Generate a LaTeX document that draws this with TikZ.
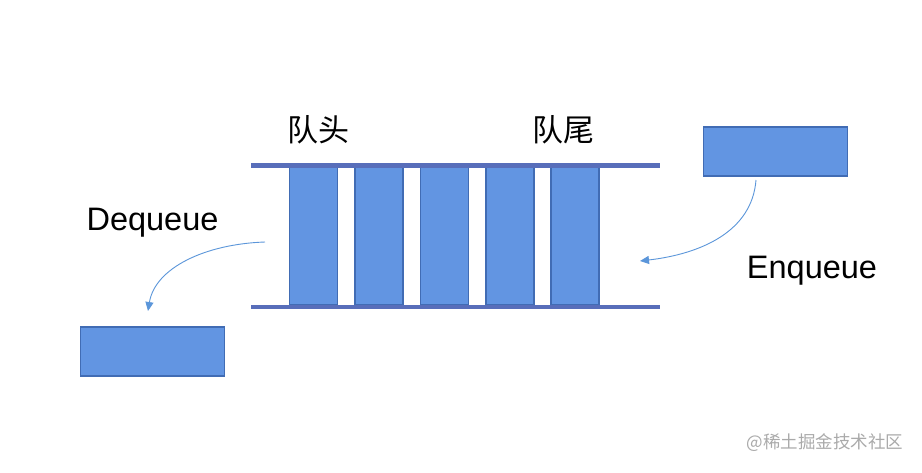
\documentclass[tikz,border=0pt]{standalone}
\usepackage{fontspec}
\setmainfont{Liberation Sans}
\newfontfamily\cjk{Noto Sans CJK SC}
\usetikzlibrary{arrows.meta}
\definecolor{barfill}{RGB}{98,149,226}
\definecolor{barline}{RGB}{65,108,180}
\definecolor{railc}{RGB}{88,110,186}
\definecolor{arrowc}{RGB}{91,150,218}
\definecolor{wmark}{RGB}{170,170,170}
\begin{document}
\begin{tikzpicture}[x=1pt,y=-1pt,
  bar/.style={draw=barline,fill=barfill,line width=1.3pt,minimum width=48pt,minimum height=138pt,inner sep=0pt,outer sep=0pt},
  itembox/.style={draw=barline,fill=barfill,line width=1.3pt,minimum width=144pt,minimum height=49pt,inner sep=0pt,outer sep=0pt},
  rail/.style={draw=railc,line width=4.5pt},
  flow/.style={draw=arrowc,line width=0.9pt,-{Triangle[length=9pt,width=8pt]}},
  lbl/.style={font=\fontsize{32.5}{36}\selectfont,inner sep=0pt},
  cjklbl/.style={font=\cjk\fontsize{31}{34}\selectfont,inner sep=0pt}]
\useasboundingbox (0,0) rectangle (922,472);
\fill[white] (0,0) rectangle (922,472);
% bars
\node[bar] (b1) at (313.5,236) {};
\node[bar] (b2) at (379,236) {};
\node[bar] (b3) at (444.5,236) {};
\node[bar] (b4) at (510,236) {};
\node[bar] (b5) at (575,236) {};
% rails
\coordinate (tl) at (251,165.5);
\coordinate (tr) at (660,165.5);
\coordinate (bl) at (251,307);
\coordinate (br) at (660,307);
\draw[rail] (tl) -- (tr);
\draw[rail] (bl) -- (br);
% labels
\node[cjklbl] (head) at (318,130) {队头};
\node[cjklbl] (tail) at (563,130) {队尾};
\node[lbl] (deq) at (152.5,223) {Dequeue};
\node[lbl] (enq) at (812,271) {Enqueue};
% boxes
\node[itembox] (outbox) at (152.5,351.5) {};
\node[itembox] (inbox) at (775.5,151.5) {};
% arrows
\coordinate (dqs) at (265,242);
\coordinate (dqe) at (148,311);
\coordinate (eqs) at (756,180);
\coordinate (eqe) at (640,261);
\draw[flow] (dqs) .. controls (205,244) and (155,268) .. (dqe);
\draw[flow] (eqs) .. controls (752,232) and (700,254) .. (eqe);
% watermark
\node[font=\cjk\fontsize{17.5}{20}\selectfont,text=wmark,inner sep=0pt] (wm) at (825,443) {@稀土掘金技术社区};
\end{tikzpicture}
\end{document}
